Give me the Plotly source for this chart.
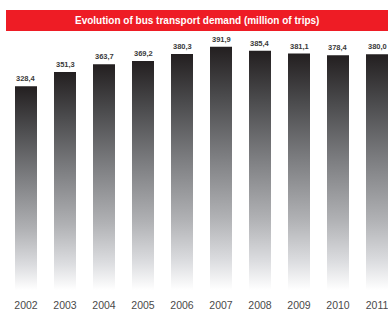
import plotly.graph_objects as go

years = ["2002", "2003", "2004", "2005", "2006", "2007", "2008", "2009", "2010", "2011"]
trips = [328.4, 351.3, 363.7, 369.2, 380.3, 391.9, 385.4, 381.1, 378.4, 380.0]
value_labels = ["328,4", "351,3", "363,7", "369,2", "380,3", "391,9", "385,4", "381,1", "378,4", "380,0"]
title_text = "Evolution of bus transport demand (million of trips)"

BAR_W = 0.564
grad = [[0.0, "#ffffff"], [0.12, "#dcdde0"], [0.3, "#b0b1b4"], [0.55, "#7d7e81"],
        [0.8, "#4a4a4c"], [1.0, "#231f20"]]

fig = go.Figure()
for i, v in enumerate(trips):
    h = BAR_W / 2
    fig.add_trace(go.Scatter(
        x=[i - h, i + h, i + h, i - h, i - h],
        y=[0, 0, v, v, 0],
        mode="lines", line=dict(width=0), fill="toself",
        fillgradient=dict(type="vertical", colorscale=grad, start=0, stop=v),
        hoverinfo="skip", showlegend=False,
    ))
    fig.add_annotation(x=i, y=v, text=value_labels[i], showarrow=False,
                       yanchor="bottom", yshift=1,
                       font=dict(family="Liberation Sans", size=7.5, color="#3a3a3a", weight="bold"))

fig.add_shape(type="rect", xref="paper", yref="paper", x0=0, x1=1.02, y0=1.036, y1=1.12,
              fillcolor="#ee1c25", line=dict(width=0), layer="above")
fig.add_annotation(xref="paper", yref="paper", x=0.5, y=1.078, text="<b>" + title_text + "</b>",
                   showarrow=False, yanchor="middle",
                   font=dict(family="Liberation Sans", size=10, color="#ffffff"))

fig.update_layout(
    width=388, height=312,
    margin=dict(l=6, r=0, t=40, b=22),
    paper_bgcolor="white", plot_bgcolor="white",
    xaxis=dict(range=[-0.5128, 9.282], tickvals=list(range(len(years))), ticktext=years,
               showgrid=False, zeroline=False, showline=False, ticks="",
               ticklabelstandoff=7, ticklabeloverflow="allow",
               tickfont=dict(family="Liberation Sans", size=10.5, color="#4a4a4a"),
               fixedrange=True),
    yaxis=dict(range=[0, 402.9], visible=False, fixedrange=True),
    showlegend=False,
)
fig.write_html("out.html", config={"displayModeBar": False},
               post_script="document.body.style.margin='0';document.body.style.overflow='hidden';")
